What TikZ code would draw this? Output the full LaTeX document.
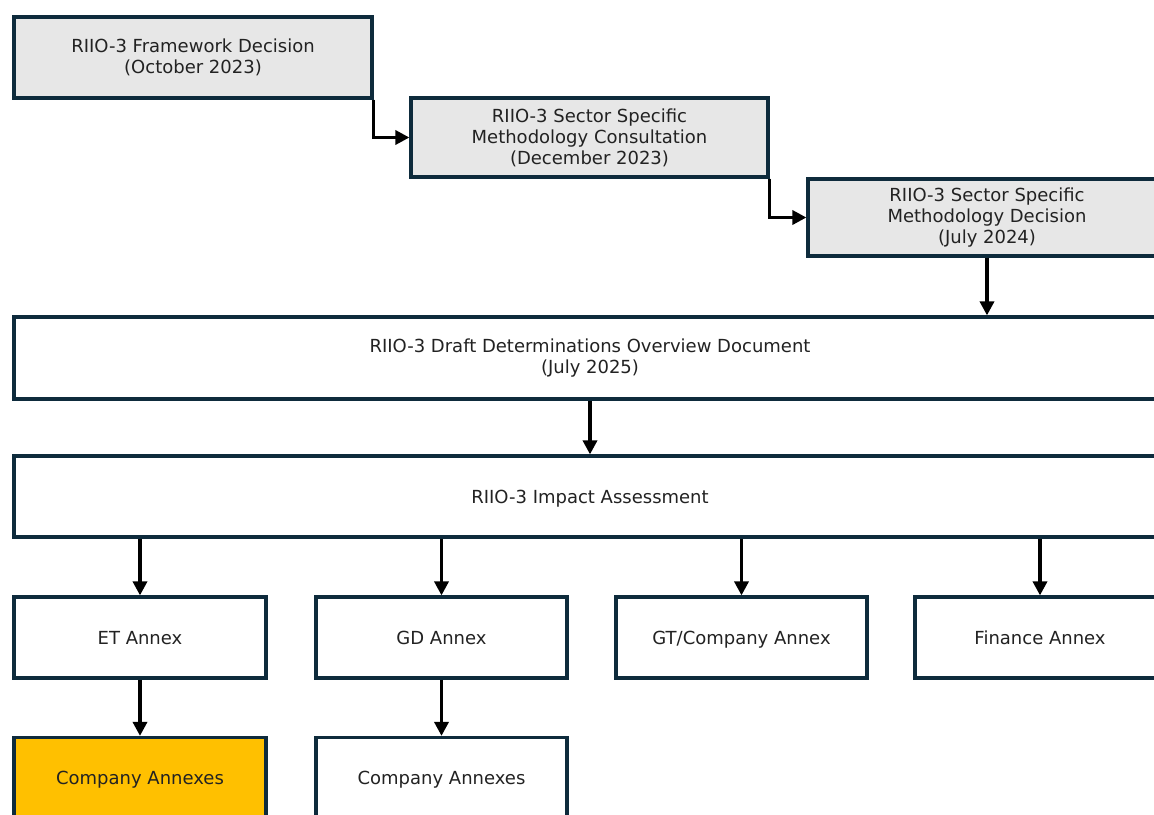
\documentclass[tikz,border=0pt]{standalone}
\usepackage{fontspec}
\setmainfont{DejaVu Sans}
\usetikzlibrary{arrows.meta}
\definecolor{bordc}{HTML}{0E2B3C}
\definecolor{greyfill}{HTML}{E7E7E7}
\definecolor{orangefill}{HTML}{FFC000}
\definecolor{txt}{HTML}{222222}
\tikzset{
  box/.style={draw=bordc, line width=3.2pt, rectangle, align=center, text=txt,
    font=\fontsize{18}{21}\selectfont, inner sep=0pt},
  greybox/.style={box, fill=greyfill},
  oneline/.style={text height=13pt, text depth=0pt},
  arr/.style={draw=black, line width=3.4pt, -{Triangle[length=14pt,width=14pt]}}
}
\begin{document}
\begin{tikzpicture}[x=1pt,y=-1pt]
\useasboundingbox (0,0) rectangle (1154,814);
\clip (0,0) rectangle (1154,814);
\fill[white] (0,0) rectangle (1154,814);
\node[greybox, minimum width=358pt, minimum height=81pt] (fw) at (193,57.5) {RIIO-3 Framework Decision\\(October 2023)};
\node[greybox, minimum width=357pt, minimum height=79pt] (ssmc) at (589.5,137.5) {RIIO-3 Sector Specific\\Methodology Consultation\\(December 2023)};
\node[greybox, minimum width=358pt, minimum height=77pt] (ssmd) at (987,217.5) {RIIO-3 Sector Specific\\Methodology Decision\\(July 2024)};
\node[box, fill=white, minimum width=1152pt, minimum height=82pt] (dd) at (590,358) {RIIO-3 Draft Determinations Overview Document\\(July 2025)};
\node[box, oneline, fill=white, minimum width=1152pt, minimum height=81pt] (ia) at (590,496.5) {RIIO-3 Impact Assessment};
\node[box, oneline, fill=white, minimum width=252pt, minimum height=81pt] (et) at (140,637.5) {ET Annex};
\node[box, oneline, fill=white, minimum width=251pt, minimum height=81pt] (gd) at (441.5,637.5) {GD Annex};
\node[box, oneline, fill=white, minimum width=251pt, minimum height=81pt] (gt) at (741.5,637.5) {GT/Company Annex};
\node[box, oneline, fill=white, minimum width=250pt, minimum height=81pt] (fin) at (1040,637.5) {Finance Annex};
\node[box, oneline, fill=orangefill, minimum width=252pt, minimum height=81pt] (ca1) at (140,778) {Company Annexes};
\node[box, oneline, fill=white, minimum width=251pt, minimum height=81pt] (ca2) at (441.5,778) {Company Annexes};
\draw[arr] (fw.south east) |- (ssmc.west);
\draw[arr] (ssmc.south east) |- (ssmd.west);
\draw[arr] (ssmd.south) -- (ssmd.south |- dd.north);
\draw[arr] (dd.south) -- (ia.north);
\draw[arr] (et.north |- ia.south) -- (et.north);
\draw[arr] (gd.north |- ia.south) -- (gd.north);
\draw[arr] (gt.north |- ia.south) -- (gt.north);
\draw[arr] (fin.north |- ia.south) -- (fin.north);
\draw[arr] (et.south) -- (ca1.north);
\draw[arr] (gd.south) -- (ca2.north);
\end{tikzpicture}
\end{document}
